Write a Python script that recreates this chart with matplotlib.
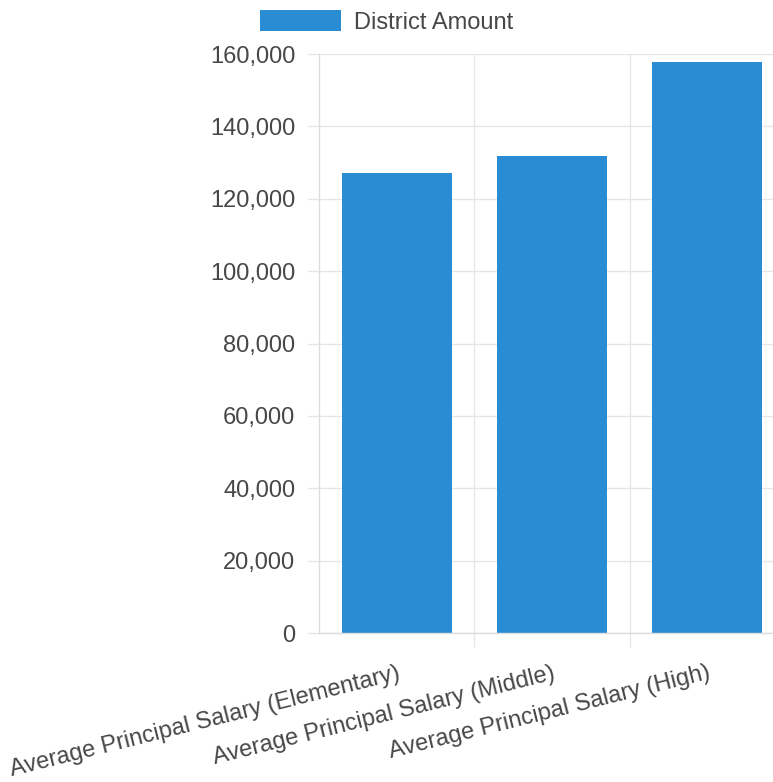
import matplotlib
matplotlib.use("Agg")
import matplotlib.pyplot as plt
from matplotlib.ticker import FuncFormatter, FixedLocator

# -----------------------------------------------------------------------
# Data
# -----------------------------------------------------------------------
categories = [
    "Average Principal Salary (Elementary)",
    "Average Principal Salary (Middle)",
    "Average Principal Salary (High)",
]
district_amount = [127100, 131800, 157800]
series_label = "District Amount"
y_ticks = [0, 20000, 40000, 60000, 80000, 100000, 120000, 140000, 160000]

BAR_COLOR = "#2a8dd4"
GRID_COLOR = "#e6e6e6"
TEXT_COLOR = "#474747"

plt.rcParams["font.family"] = ["Liberation Sans", "DejaVu Sans"]

W, H = 773, 782
fig = plt.figure(figsize=(W / 100, H / 100), dpi=100)

# axes run past the right edge of the canvas, like the cropped original
ax = fig.add_axes([319 / W, 149 / H, 466 / W, 579 / H])

x = list(range(len(categories)))
ax.bar(x, district_amount, width=0.71, color=BAR_COLOR, label=series_label, zorder=2)

ax.set_xlim(-0.5, len(categories) - 0.5)
ax.set_ylim(0, 160000)

# y axis
ax.set_yticks(y_ticks)
ax.yaxis.set_major_formatter(FuncFormatter(lambda v, p: f"{int(v):,}"))
ax.tick_params(axis="y", length=8, width=1, color=GRID_COLOR, pad=9,
               labelsize=17, labelcolor=TEXT_COLOR)
ax.grid(axis="y", color=GRID_COLOR, linewidth=1, zorder=0)

# x axis: labels at centres, grid lines between categories
ax.set_xticks(x)
ax.set_xticklabels(categories, rotation=14, ha="right", va="top",
                   rotation_mode="anchor")
ax.tick_params(axis="x", which="major", length=0, pad=21,
               labelsize=17, labelcolor=TEXT_COLOR)
ax.xaxis.set_minor_locator(FixedLocator([i + 0.5 for i in x]))
ax.tick_params(axis="x", which="minor", length=10, width=1, color=GRID_COLOR)
ax.grid(axis="x", which="minor", color=GRID_COLOR, linewidth=1, zorder=0)

for side in ["top", "right"]:
    ax.spines[side].set_visible(False)
for side in ["left", "bottom"]:
    ax.spines[side].set_color("#dddddd")
    ax.spines[side].set_linewidth(1)

fig.legend(loc="upper center", bbox_to_anchor=(0.5, 1 - 10 / H),
           frameon=False, fontsize=17, labelcolor=TEXT_COLOR,
           handlelength=3.4, handleheight=1.0, handletextpad=0.55,
           borderpad=0, borderaxespad=0)

fig.savefig("out.png", dpi=100)
